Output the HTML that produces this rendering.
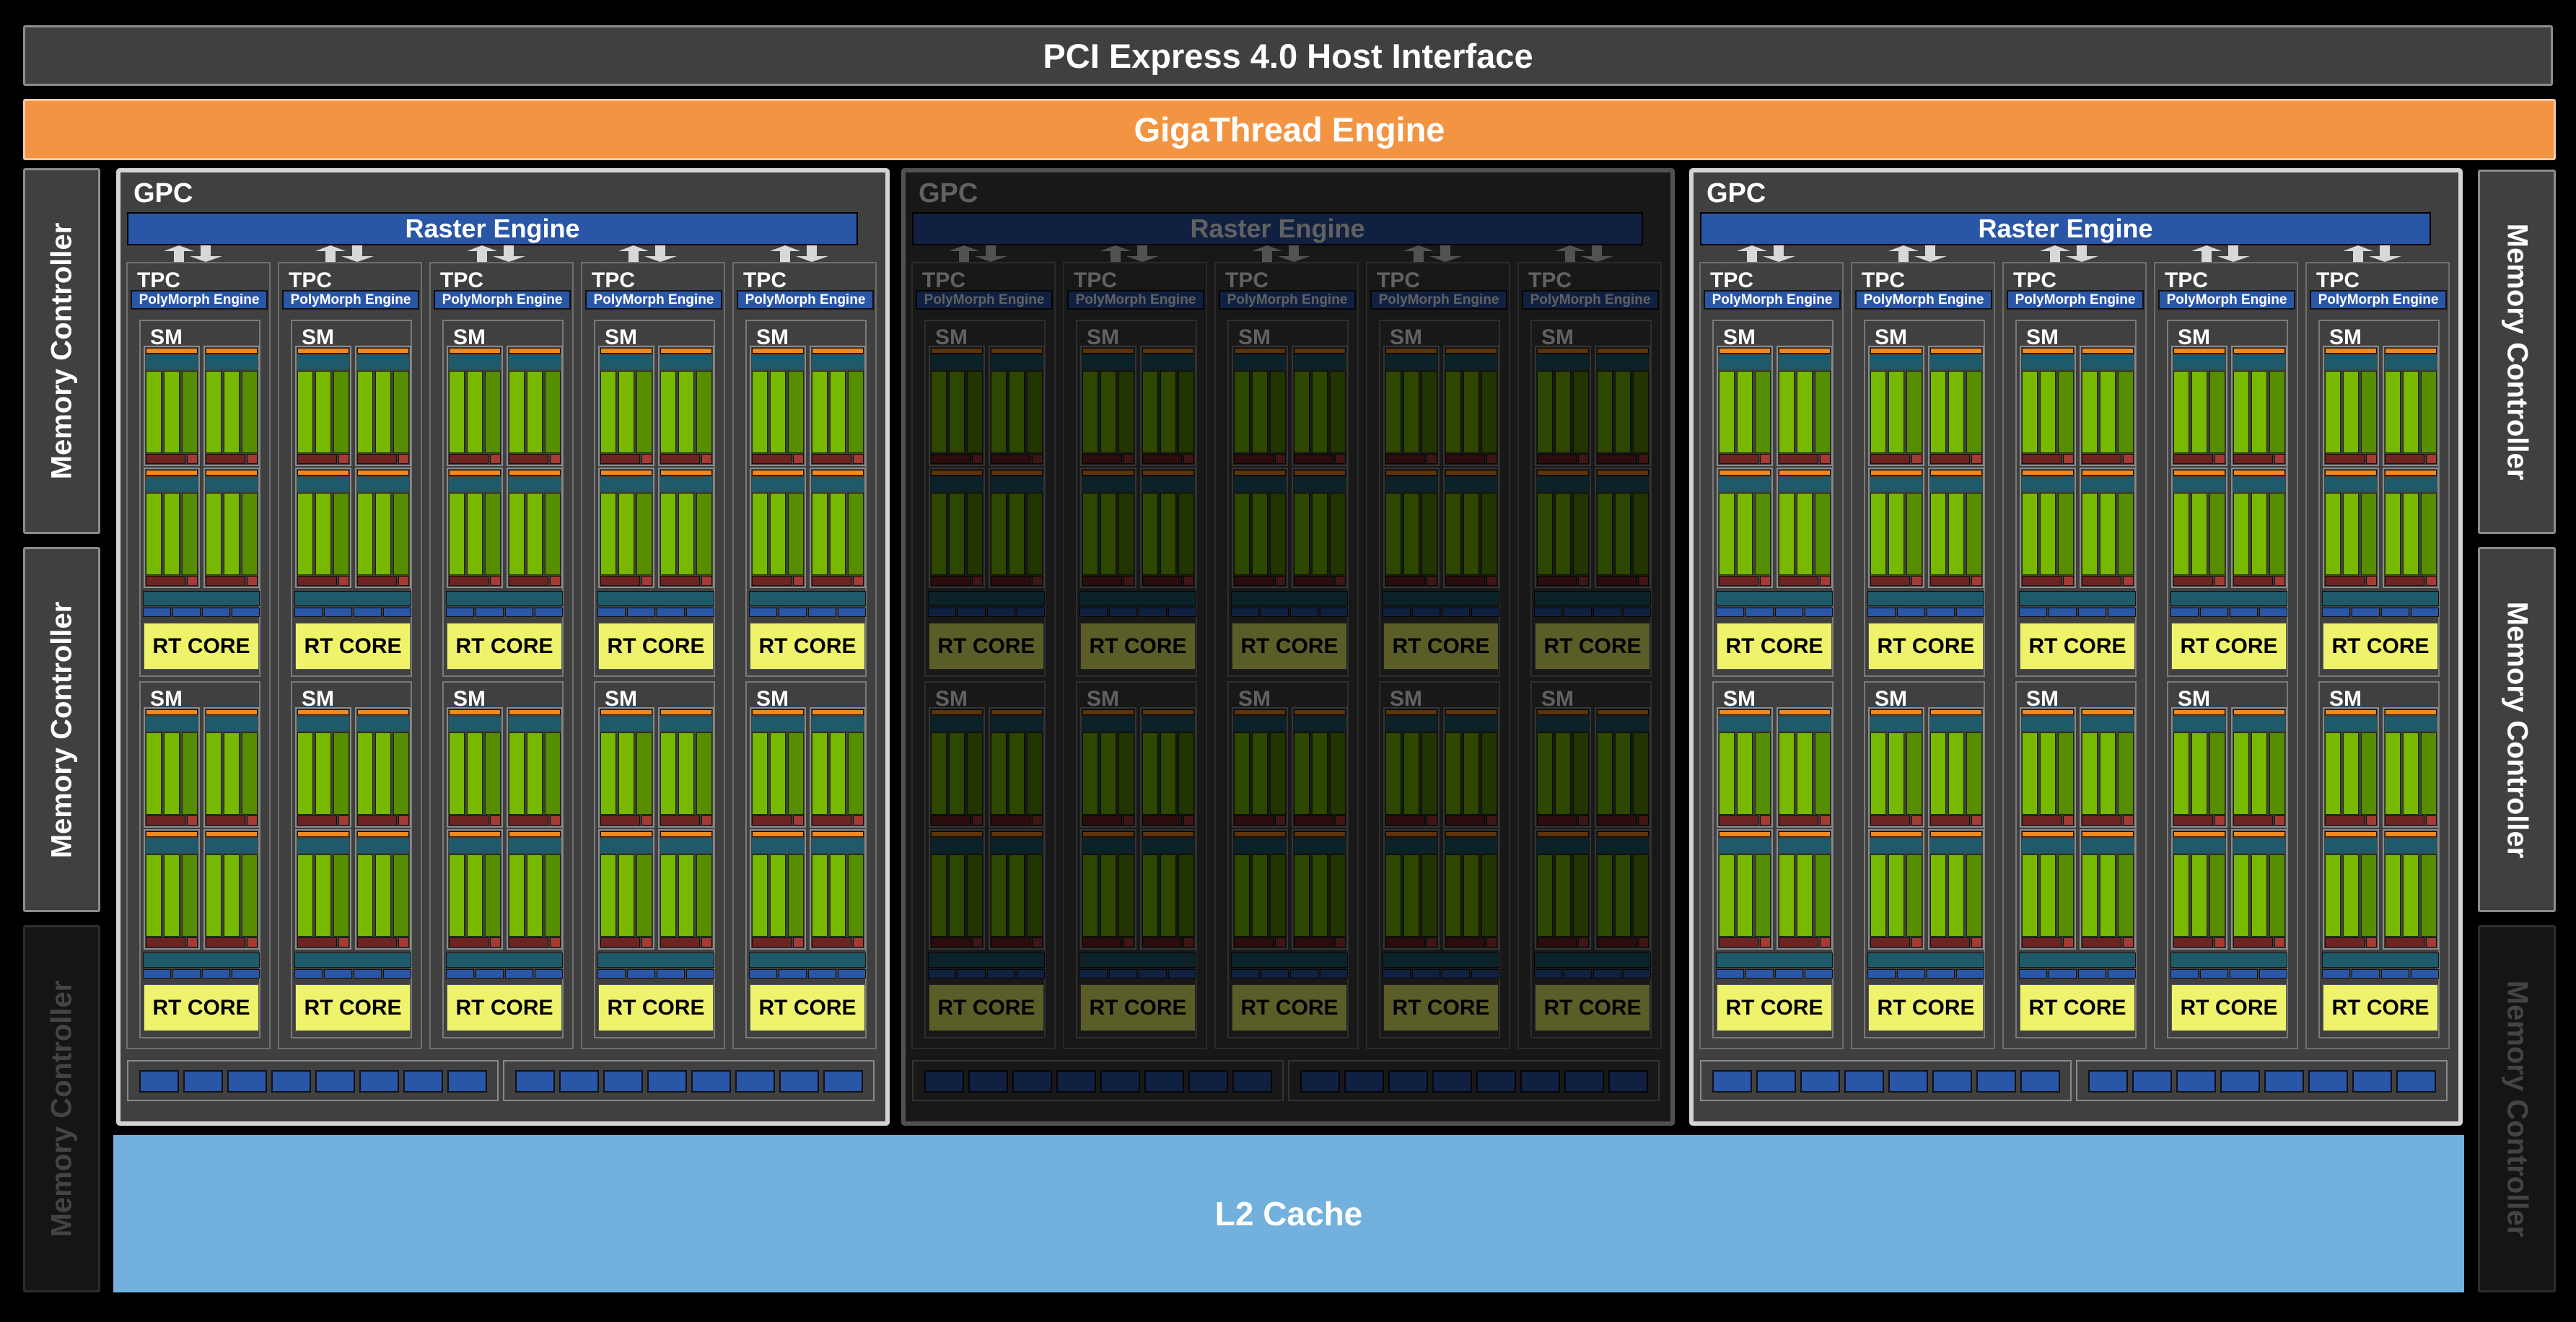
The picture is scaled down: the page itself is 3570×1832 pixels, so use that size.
<!DOCTYPE html>
<html><head><meta charset="utf-8">
<style>
*{box-sizing:border-box;margin:0;padding:0}
body{width:3570px;height:1832px;background:#000;position:relative;overflow:hidden;font-family:"Liberation Sans",Arial,sans-serif;font-weight:bold;color:#fff}
div{position:absolute}
.bar{display:flex;align-items:center;justify-content:center;font-size:47px}
.mc{background:#404040;border:3px solid #8c8c8c;border-radius:3px;display:flex;align-items:center;justify-content:center}
.mc span{font-size:40px;white-space:nowrap;display:block}
.l span{transform:rotate(-90deg)}
.r span{transform:rotate(90deg)}
.dim{background:#151515;border-color:#2e2e2e;color:#444}
</style></head><body>
<div class="bar" style="left:32px;top:35px;width:3506px;height:84px;background:#404040;border:3px solid #8c8c8c;border-radius:3px">PCI Express 4.0 Host Interface</div>
<div class="bar" style="left:32px;top:137px;width:3510px;height:85px;background:#f39443;border:3px solid #f8c8a4;border-radius:3px">GigaThread Engine</div>
<div class="mc l" style="left:32px;top:233px;width:107px;height:507px"><span>Memory Controller</span></div>
<div class="mc l" style="left:32px;top:758px;width:107px;height:506px"><span>Memory Controller</span></div>
<div class="mc l dim" style="left:32px;top:1282px;width:107px;height:509px"><span>Memory Controller</span></div>
<div class="mc r" style="left:3434px;top:235px;width:108px;height:505px"><span>Memory Controller</span></div>
<div class="mc r" style="left:3434px;top:758px;width:108px;height:506px"><span>Memory Controller</span></div>
<div class="mc r dim" style="left:3434px;top:1282px;width:108px;height:509px"><span>Memory Controller</span></div>
<div class="bar" style="left:157px;top:1573px;width:3258px;height:218px;background:#72b1dd;font-size:46px">L2 Cache</div>
<div id="root"></div>
<script>
var h='';
function d(l,t,w,ht,st,txt){h+='<div style="left:'+l+'px;top:'+t+'px;width:'+w+'px;height:'+ht+'px;'+(st||'')+'">'+(txt||'')+'</div>';}
var BL='#2a56a8';
function gpc(x0,dim){
 d(x0,233,1072,1327,'background:#404040;border:6px solid #d4d4d4;border-radius:5px');
 d(x0+24,246,200,44,'font-size:38px;line-height:44px','GPC');
 d(x0+15,294,1013,46,'background:'+BL+';border:2px solid #000;font-size:36px;line-height:42px;text-align:center','Raster Engine');
 for(var i=0;i<5;i++){
  var tx=x0+14+210*i;
  h+='<svg style="position:absolute;left:'+(tx+50)+'px;top:340px" width="90" height="24"><polygon points="23,0 44,8 30,8 30,23 16,23 16,8 2,8" fill="#d8d8d8"/><polygon points="53,0 67,0 67,15 83,15 60,23 38,15 53,15" fill="#d8d8d8"/></svg>';
  d(tx,363,200,1091,'border:2px solid #6e6e6e');
  d(tx+15,372,120,34,'font-size:30px;line-height:34px','TPC');
  d(tx+6,402,190,27,'background:'+BL+';border:2px solid #111;font-size:19px;line-height:23px;text-align:center;white-space:nowrap;overflow:hidden','PolyMorph Engine');
  for(var j=0;j<2;j++){
   var sx=tx+18, sy=443+501*j;
   d(sx,sy,168,495,'border:2px solid #7a7a7a');
   d(sx+15,sy+8,80,34,'font-size:30px;line-height:34px','SM');
   for(var r=0;r<2;r++)for(var c=0;c<2;c++){
    var bx=sx+6+83*c, by=sy+36+169*r;
    d(bx,by,78,167,'border:2px solid #8a8a8a;background:#404040');
    d(bx+3,by+3,72,8,'background:#f0891f;border:1px solid #111');
    d(bx+3,by+13,72,20,'background:#1f5a6b');
    d(bx+3,by+35,22,114,'background:#76b900;border:1px solid #1a2a00');
    d(bx+28,by+35,22,114,'background:#76b900;border:1px solid #1a2a00');
    d(bx+53,by+35,22,114,'background:#578d00;border:1px solid #1a2a00');
    d(bx+3,by+150,55,14,'background:#6e2420;border:1px solid #111');
    d(bx+60,by+150,15,14,'background:#a53b33;border:1px solid #111');
   }
   d(sx+5,sy+376,162,21,'background:#1f5a6b;border:1px solid #111');
   for(var k=0;k<4;k++)d(sx+5+41*k,sy+399,39,13,'background:'+BL+';border:1px solid #111');
   d(sx+6,sy+420,160,65,'background:#eff36b;border:1px solid #555;color:#000;font-size:30px;line-height:63px;text-align:center;white-space:nowrap','RT CORE');
  }
 }
 for(var b=0;b<2;b++){
  var bx2=x0+15+521*b;
  d(bx2,1469,515,57,'border:2px solid #8a8a8a');
  for(var k=0;k<8;k++)d(bx2+17+61*k,1483,55,31,'background:'+BL+';border:2px solid #111');
 }
 if(dim)d(x0,233,1072,1327,'background:rgba(0,0,0,0.62);border-radius:5px');
}
gpc(161,false);gpc(1249,true);gpc(2341,false);
document.getElementById('root').outerHTML=h;
</script>
</body></html>
